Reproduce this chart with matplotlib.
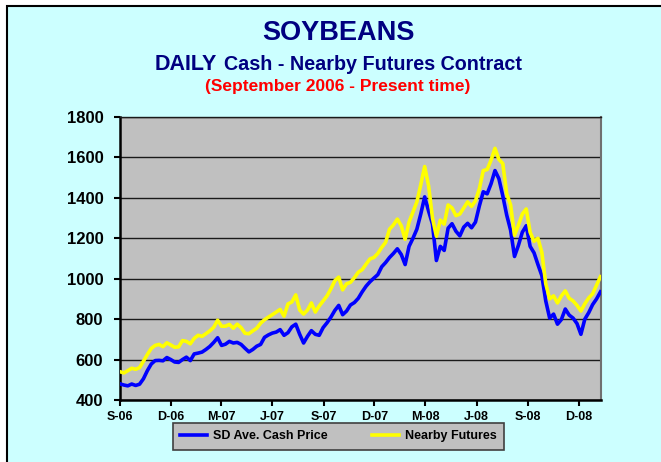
import pandas as pd
import matplotlib
matplotlib.use("Agg")
import matplotlib.pyplot as plt
from matplotlib.patches import Rectangle

# weekly readings, Sep 2006 - Jan 2009
weeks = pd.date_range("2006-09-01", periods=124, freq="7D")

cash = [480, 474, 470, 479, 472, 478, 505, 545, 578, 595,
        596, 594, 610, 600, 588, 586, 600, 612, 595, 628,
        632, 637, 650, 665, 685, 708, 670, 676, 690, 682,
        685, 675, 656, 638, 650, 666, 675, 710, 722, 731,
        736, 748, 720, 733, 762, 775, 725, 682, 715, 743,
        725, 720, 758, 782, 810, 843, 868, 822, 840, 870,
        882, 903, 935, 963, 985, 1003, 1020, 1059, 1080, 1105,
        1125, 1148, 1120, 1070, 1160, 1200, 1245, 1320, 1405, 1335,
        1270, 1090, 1160, 1140, 1250, 1272, 1235, 1212, 1255, 1274,
        1252, 1280, 1360, 1430, 1420, 1470, 1535, 1495, 1410, 1315,
        1240, 1110, 1165, 1230, 1262, 1160, 1128, 1070, 1015, 890,
        805, 825, 775, 798, 850, 820, 805, 778, 725, 800,
        832, 872, 900, 935]

futures = [540, 534, 545, 557, 552, 560, 592, 625, 655, 670,
           675, 664, 683, 672, 661, 663, 694, 690, 678, 705,
           720, 715, 728, 742, 760, 795, 765, 765, 774, 755,
           775, 758, 730, 728, 742, 755, 780, 797, 810, 822,
           835, 848, 815, 875, 885, 920, 845, 825, 845, 880,
           835, 865, 890, 915, 950, 990, 1008, 945, 975, 982,
           1005, 1032, 1045, 1072, 1098, 1105, 1125, 1155, 1180, 1245,
           1266, 1295, 1262, 1195, 1280, 1330, 1380, 1465, 1555, 1460,
           1300, 1210, 1290, 1270, 1365, 1350, 1312, 1320, 1350, 1380,
           1358, 1385, 1445, 1535, 1540, 1587, 1645, 1590, 1570, 1420,
           1365, 1215, 1265, 1320, 1345, 1230, 1185, 1200, 1130, 975,
           900, 915, 880, 915, 940, 903, 890, 868, 840, 876,
           905, 925, 968, 1010]

tick_dates = pd.to_datetime(["2006-09-01", "2006-12-01", "2007-03-01", "2007-06-01",
                             "2007-09-01", "2007-12-01", "2008-03-01", "2008-06-01",
                             "2008-09-01", "2008-12-01"])
tick_labels = ["S-06", "D-06", "M-07", "J-07", "S-07", "D-07", "M-08", "J-08", "S-08", "D-08"]

plt.rcParams["font.family"] = ["Liberation Sans", "DejaVu Sans"]
plt.rcParams["font.weight"] = "bold"

fig = plt.figure(figsize=(6.61, 4.62), dpi=100, facecolor="white")
fig.patches.append(Rectangle((7 / 661, -0.1), 1.2, 1.1 - 6 / 462, transform=fig.transFigure,
                             facecolor="#CCFFFF", edgecolor="black", linewidth=1.5, zorder=-5))

ax = fig.add_axes([120 / 661, 62 / 462, 481 / 661, 283 / 462])
ax.set_facecolor("#C0C0C0")

ax.plot(weeks, cash, color="#0000FF", lw=2.6, label="SD Ave. Cash Price", zorder=3)
ax.plot(weeks, futures, color="#FFFF00", lw=2.6, label="Nearby Futures", zorder=3)

ax.set_ylim(400, 1800)
ax.set_yticks(range(400, 1801, 200))
ax.set_xlim(pd.Timestamp("2006-09-01"), pd.Timestamp("2009-01-10"))
ax.set_xticks(tick_dates)
ax.set_xticklabels(tick_labels)
ax.yaxis.grid(True, color="#1a1a1a", lw=1.0)
ax.set_axisbelow(True)

for lab in ax.get_yticklabels():
    lab.set_fontsize(12)
    lab.set_fontweight("bold")
for lab in ax.get_xticklabels():
    lab.set_fontsize(9)
    lab.set_fontweight("bold")
ax.tick_params(axis="y", direction="out", length=4, width=1.5, pad=8)
ax.tick_params(axis="x", direction="out", length=4, width=1.5, pad=4)

ax.spines["left"].set_linewidth(1.8)
ax.spines["bottom"].set_linewidth(1.8)
ax.spines["top"].set_color("#1a1a1a")
ax.spines["top"].set_linewidth(1.0)
ax.spines["right"].set_color("#707070")
ax.spines["right"].set_linewidth(1.5)

cx = 338 / 661
fig.text(cx, 1 - 33 / 462, "SOYBEANS", ha="center", va="center",
         fontsize=19.5, fontweight="bold", color="#000080")
fig.text(155 / 661, 1 - 64 / 462, "DAILY", ha="left", va="center",
         fontsize=15.5, fontweight="bold", color="#000080")
fig.text(224 / 661, 1 - 64 / 462, "Cash - Nearby Futures Contract", ha="left", va="center",
         fontsize=14.2, fontweight="bold", color="#000080")
fig.text(cx, 1 - 87 / 462, "(September 2006 - Present time)", ha="center", va="center",
         fontsize=12.5, fontweight="bold", color="#FF0000")

leg = fig.legend(loc="center", bbox_to_anchor=(338.5 / 661, 1 - 436 / 462), ncol=2,
                 fancybox=False, frameon=True, prop={"size": 9, "weight": "bold"},
                 handlelength=2.1, handletextpad=0.5, columnspacing=3.6,
                 borderpad=0.6)
leg.get_frame().set_facecolor("#C0C0C0")
leg.get_frame().set_edgecolor("#404040")
leg.get_frame().set_linewidth(1.2)
leg.get_frame().set_alpha(1)

fig.savefig("out.png", dpi=100, facecolor=fig.get_facecolor())
